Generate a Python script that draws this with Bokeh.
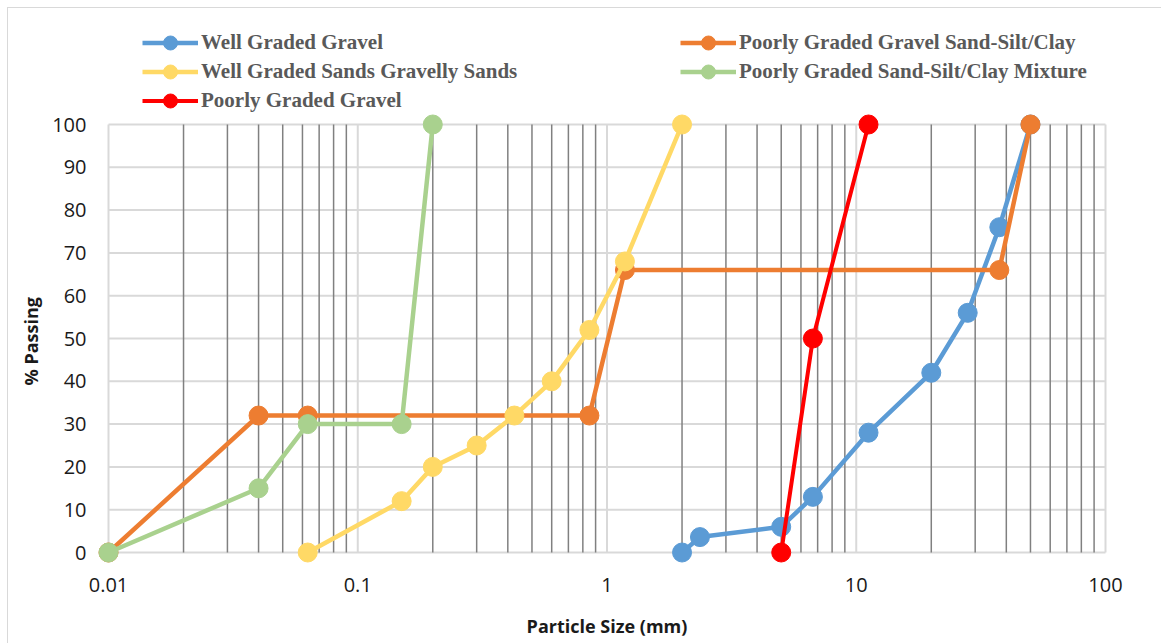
from bokeh.plotting import figure
from bokeh.models import Legend, LegendItem, FixedTicker, Range1d, Title
from bokeh.embed import file_html
from bokeh.resources import INLINE

# ---- data (particle size in mm, % passing) ----
wgg_size = [2.0, 2.36, 5.0, 6.7, 11.2, 20.0, 28.0, 37.5, 50.0]
wgg_pass = [0, 3.6, 6, 13, 28, 42, 56, 76, 100]

pggss_size = [0.01, 0.04, 0.063, 0.85, 1.18, 37.5, 50.0]
pggss_pass = [0, 32, 32, 32, 66, 66, 100]

wgs_size = [0.063, 0.15, 0.2, 0.3, 0.425, 0.6, 0.85, 1.18, 2.0]
wgs_pass = [0, 12, 20, 25, 32, 40, 52, 68, 100]

pgsm_size = [0.01, 0.04, 0.063, 0.15, 0.2]
pgsm_pass = [0, 15, 30, 30, 100]

pgg_size = [5.0, 6.7, 11.2]
pgg_pass = [0, 50, 100]

names = ["Well Graded Gravel", "Poorly Graded Gravel Sand-Silt/Clay",
         "Well Graded Sands Gravelly Sands", "Poorly Graded Sand-Silt/Clay Mixture",
         "Poorly Graded Gravel"]
colors = ["#5B9BD5", "#ED7D31", "#FFD966", "#A9D18E", "#FF0000"]
xs = [wgg_size, pggss_size, wgs_size, pgsm_size, pgg_size]
ys = [wgg_pass, pggss_pass, wgs_pass, pgsm_pass, pgg_pass]
widths = [4.5, 4.5, 4.5, 4.5, 4]

x_major = [0.01, 0.1, 1, 10, 100]
x_labels = ["0.01", "0.1", "1", "10", "100"]
x_minor = [m * 10.0 ** e for e in range(-2, 2) for m in range(2, 10)]
y_major = list(range(0, 101, 10))
X_MIN, X_MAX, Y_MIN, Y_MAX = 0.01, 100, 0, 100

# layout: plot area for 0..100 is 428 px tall; frame extends upward to hold the legend
W, H = 1161, 643
BORDER_TOP, BORDER_BOTTOM = 10, 91
PLOT_H = 428
FRAME_H = H - BORDER_BOTTOM - BORDER_TOP
y_top = 100.0 * FRAME_H / PLOT_H

p = figure(width=W, height=H, x_axis_type="log",
           x_range=Range1d(X_MIN, X_MAX), y_range=Range1d(Y_MIN, y_top),
           output_backend="svg", toolbar_location=None, title_location=None,
           min_border_left=108, min_border_right=56,
           min_border_top=BORDER_TOP, min_border_bottom=BORDER_BOTTOM)
# thin light chart border (top and left edges, as in the reference)
p.styles = {"box-shadow": "inset 7px 7px 0 0 #ffffff, inset 8px 8px 0 0 #d9d9d9"}
p.border_fill_alpha = 0
p.outline_line_color = None
p.xgrid.visible = False
p.ygrid.visible = False

# grid lines limited to the 0..100 plot area
p.segment(x0=[X_MIN] * len(y_major), x1=[X_MAX] * len(y_major), y0=y_major, y1=y_major,
          line_color="#d9d9d9", line_width=2, level="guide")
p.segment(x0=x_minor, x1=x_minor, y0=[Y_MIN] * len(x_minor), y1=[Y_MAX] * len(x_minor),
          line_color="#808080", line_width=1.5, level="guide")
p.segment(x0=x_major, x1=x_major, y0=[Y_MIN] * len(x_major), y1=[Y_MAX] * len(x_major),
          line_color="#d9d9d9", line_width=2, level="guide")

xt = FixedTicker(ticks=x_major, minor_ticks=[])
yt = FixedTicker(ticks=y_major, minor_ticks=[])
p.xaxis.ticker = xt
p.yaxis.ticker = yt
p.xaxis.major_label_overrides = {v: s for v, s in zip(x_major, x_labels)}

for ax in (p.xaxis, p.yaxis):
    ax.axis_line_color = None
    ax.major_tick_line_color = None
    ax.minor_tick_line_color = None
    ax.major_tick_in = 0
    ax.major_tick_out = 0
    ax.minor_tick_in = 0
    ax.minor_tick_out = 0
    ax.major_label_text_font = "Open Sans"
    ax.major_label_text_font_size = "20px"
    ax.major_label_text_color = "#1a1a1a"
    ax.axis_label_text_font = "Open Sans"
    ax.axis_label_text_font_style = "bold"
    ax.axis_label_text_font_size = "18px"
    ax.axis_label_text_color = "#1a1a1a"

p.xaxis.axis_label = "Particle Size (mm)"
p.xaxis.major_label_standoff = 25
p.xaxis.axis_label_standoff = 19
p.yaxis.major_label_standoff = 22

# y-axis title centred on the 0..100 plot area
ytitle = Title(text="% Passing", align="left", offset=167, standoff=13,
               text_font="Open Sans", text_font_style="bold",
               text_font_size="18px", text_color="#1a1a1a")
p.add_layout(ytitle, "left")

items = []
for name, c, x, y, w in zip(names, colors, xs, ys, widths):
    lr = p.line(x, y, line_color=c, line_width=w, level="annotation")
    sr = p.scatter(x, y, size=19, fill_color=c, line_color=c, level="annotation")
    items.append(LegendItem(label=name, renderers=[lr, sr]))

# legend slots (screen offsets from the bottom-left of the plot frame)
legend_pos = [(34, 492.5), (572, 492.5), (34, 463.5), (572, 463.5), (34, 434.5)]
for item, loc in zip(items, legend_pos):
    lg = Legend(items=[item], location=loc, orientation="vertical",
                glyph_width=56, glyph_height=35, label_standoff=3,
                padding=0, margin=0, spacing=0,
                border_line_color=None, background_fill_alpha=0,
                label_text_font="Liberation Serif", label_text_font_style="bold",
                label_text_font_size="21px", label_text_color="#595959")
    p.add_layout(lg, "center")

open("out.html", "w").write(file_html(p, INLINE))
